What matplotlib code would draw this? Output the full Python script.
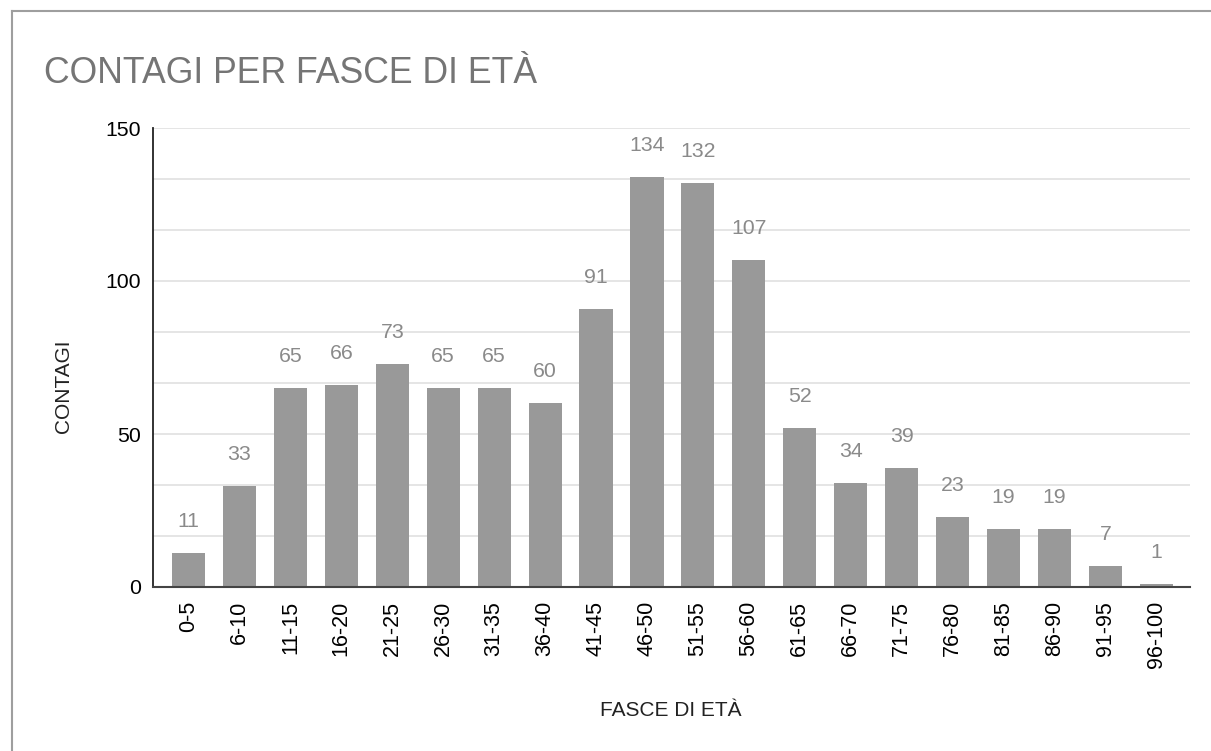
import numpy as np
import matplotlib
matplotlib.use("Agg")
import matplotlib.pyplot as plt
from matplotlib.lines import Line2D

plt.rcParams["font.family"] = ["Liberation Sans", "DejaVu Sans"]

FASCE = ["0-5", "6-10", "11-15", "16-20", "21-25", "26-30", "31-35", "36-40",
         "41-45", "46-50", "51-55", "56-60", "61-65", "66-70", "71-75",
         "76-80", "81-85", "86-90", "91-95", "96-100"]
CONTAGI = [11, 33, 65, 66, 73, 65, 65, 60, 91, 134, 132, 107, 52, 34, 39,
           23, 19, 19, 7, 1]
Y_TICKS = [0, 50, 100, 150]

W, H = 1211, 751
fig = plt.figure(figsize=(W / 100, H / 100), dpi=100)
ax = fig.add_axes([153 / W, 1 - 587 / H, (1190 - 153) / W, (587 - 128) / H])

# ── bars + value labels ──────────────────────────────────────────────────────
x = np.arange(len(FASCE))
bars = ax.bar(x, CONTAGI, width=0.65, color="#999999", zorder=3)
for b, v in zip(bars, CONTAGI):
    ax.annotate(str(v), (b.get_x() + b.get_width() / 2, v),
                xytext=(0, 18.7), textcoords="offset points",
                ha="center", va="baseline", fontsize=15.3, color="#8a8a8a")

# ── axes styling ─────────────────────────────────────────────────────────────
ax.set_xlim(-0.697, 19.66)
ax.set_ylim(0, 150)
ax.set_yticks(Y_TICKS)
ax.set_yticks(np.arange(0, 150, 50 / 3), minor=True)
ax.grid(True, which="both", axis="y", color="#e0e0e0", lw=1.2, zorder=0)
ax.tick_params(axis="y", which="both", length=0, pad=9, labelsize=15.3)
ax.set_xticks(x)
ax.set_xticklabels(FASCE, rotation=90)
ax.tick_params(axis="x", length=0, pad=10, labelsize=15.5)
for s in ["top", "right"]:
    ax.spines[s].set_visible(False)
ax.spines["left"].set_color("#222222")
ax.spines["left"].set_linewidth(1.3)
ax.spines["bottom"].set_color("#444444")
ax.spines["bottom"].set_linewidth(1.5)
ax.spines["bottom"].set_zorder(4)

# ── texts ────────────────────────────────────────────────────────────────────
fig.text(44 / W, 1 - 83 / H, "CONTAGI PER FASCE DI ETÀ", fontsize=25.7,
         color="#757575", ha="left", va="baseline")
fig.text(671 / W, 1 - 710 / H, "FASCE DI ETÀ", fontsize=15,
         color="#222222", ha="center", va="center")
fig.text(63 / W, 1 - 386 / H, "CONTAGI", fontsize=15, rotation=90,
         color="#222222", ha="center", va="center")

# ── outer frame (top + left edge) ────────────────────────────────────────────
fig.add_artist(Line2D([12 / W, 1], [1 - 11 / H, 1 - 11 / H],
                      transform=fig.transFigure, color="#9e9e9e", lw=1.5))
fig.add_artist(Line2D([12 / W, 12 / W], [0, 1 - 11 / H],
                      transform=fig.transFigure, color="#9e9e9e", lw=1.5))

fig.savefig("out.png", dpi=100)
